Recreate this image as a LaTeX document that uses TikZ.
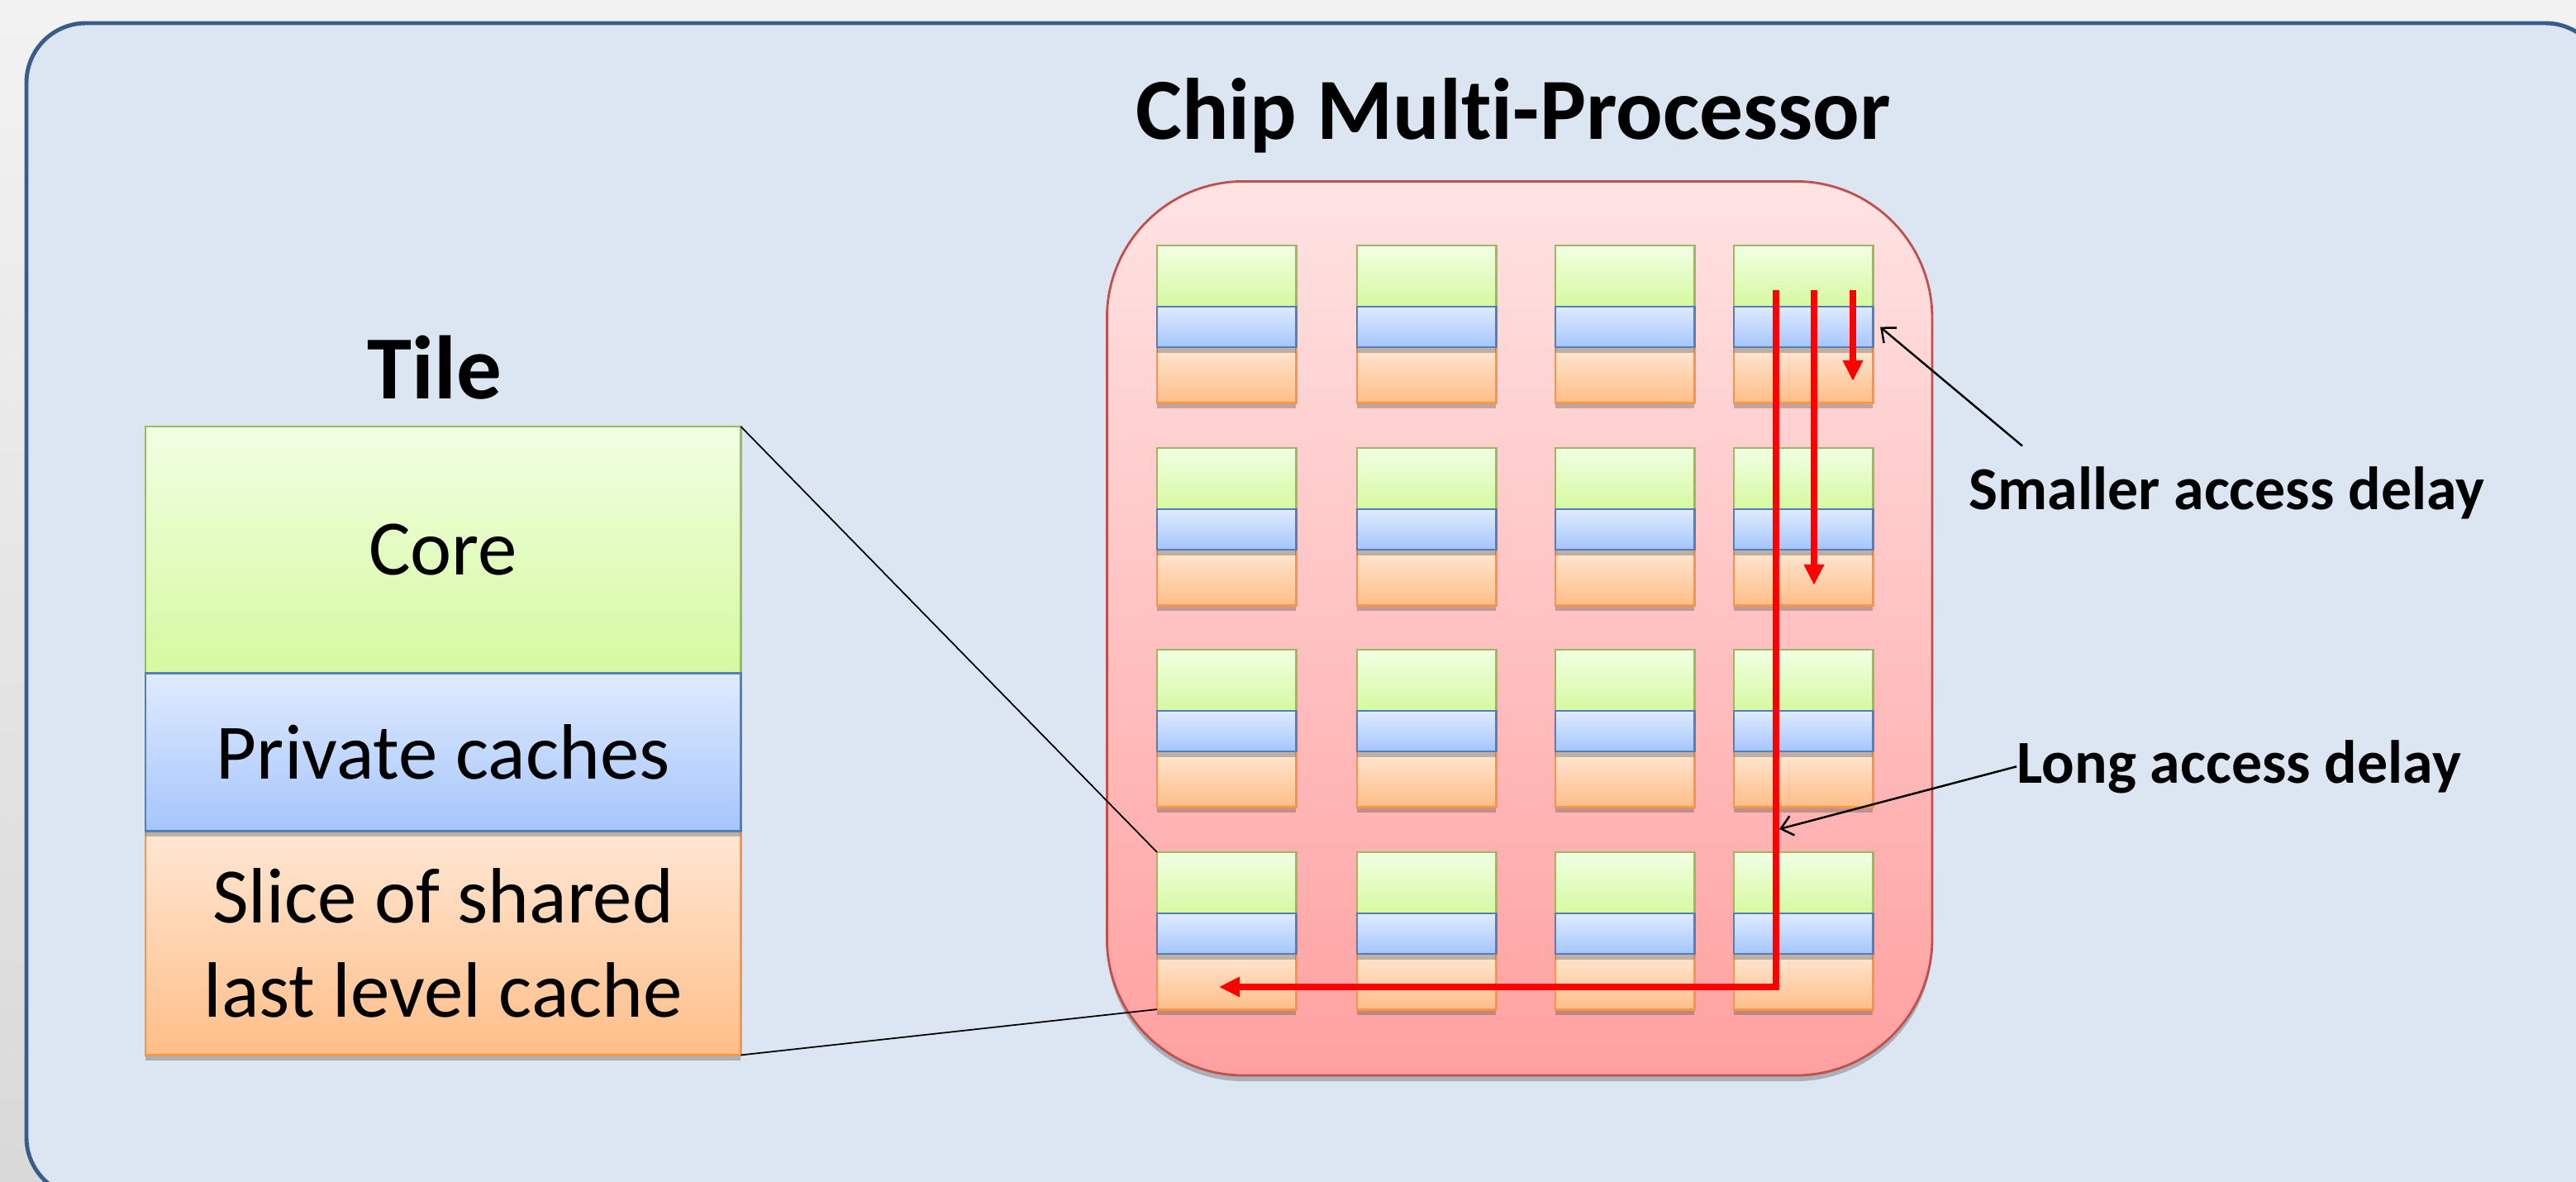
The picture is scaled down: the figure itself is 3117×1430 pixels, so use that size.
\documentclass[tikz,border=0pt]{standalone}
\usepackage{fontspec}
\setmainfont{Carlito}[Ligatures=NoCommon]
\usetikzlibrary{positioning,calc,arrows.meta,shadows}

\definecolor{slideblue}{HTML}{DCE6F2}
\definecolor{frameblue}{HTML}{385D8A}
\definecolor{chipedge}{HTML}{C0504D}
\definecolor{coreedge}{HTML}{9BBB59}
\definecolor{privedge}{HTML}{4F81BD}
\definecolor{llcedge}{HTML}{F79646}

\tikzset{
  layer/.style={draw, line width=0.8pt, inner sep=0pt, outer sep=0pt,
    anchor=north west, minimum width=#1},
  soft shadow/.style={drop shadow={shadow xshift=0pt, shadow yshift=-2pt, opacity=0.35, fill=black!70}},
  core/.style={draw=coreedge, top color={rgb,255:red,241;green,255;blue,228},
    bottom color={rgb,255:red,214;green,249;blue,160}},
  priv/.style={draw=privedge, top color={rgb,255:red,224;green,235;blue,255},
    bottom color={rgb,255:red,165;green,197;blue,252}, soft shadow},
  llc/.style={draw=llcedge, top color={rgb,255:red,255;green,231;blue,212},
    bottom color={rgb,255:red,255;green,190;blue,136}, soft shadow},
  chipbox/.style={draw=chipedge, line width=0.8pt, rounded corners=1.65cm,
    anchor=north west, top color={rgb,255:red,255;green,227;blue,227},
    bottom color={rgb,255:red,255;green,160;blue,160}, soft shadow},
  frame/.style={draw=frameblue, line width=1.4pt, fill=slideblue, rounded corners=0.72cm},
  title/.style={font=\fontsize{31}{37}\selectfont\bfseries, anchor=base, inner sep=0pt},
  bigtext/.style={font=\fontsize{27}{32.4}\selectfont, align=center},
  lbl/.style={font=\fontsize{21}{25}\selectfont\bfseries, anchor=base west, inner sep=0pt},
  redarr/.style={draw=red, line width=2.2pt, -{Triangle[length=0.25cm,width=0.23cm]}},
  pointer/.style={draw=black, line width=0.7pt, -{Straight Barb[length=0.14cm,width=0.24cm]}}
}

\begin{document}
\begin{tikzpicture}[x=0.01cm, y=-0.01cm]
  \useasboundingbox (0,0) rectangle (3117,1430);
  \clip (0,0) rectangle (3117,1430);
  \shade[top color=gray!10, bottom color=gray!30] (0,0) rectangle (3117,1430);

  % slide panel
  \draw[frame] (32,28) rectangle (3152,1448);

  % chip with 4x4 tiles
  \node[chipbox, minimum width=9.98cm, minimum height=10.81cm] (chip) at (1338,218) {};
  \node[title, font=\fontsize{30}{36}\selectfont\bfseries] (chiptitle) at (1831,168) {Chip Multi-Processor};

  \foreach \c/\x in {1/1400,2/1642,3/1882,4/2098}
    \foreach \r/\y in {1/297,2/542,3/786,4/1031} {
      \node[layer=1.68cm, core, minimum height=0.74cm] (c\r\c) at (\x,\y) {};
      \node[layer=1.68cm, llc, minimum height=0.67cm, below=0.49cm of c\r\c] (l\r\c) {};
      \node[layer=1.68cm, priv, minimum height=0.49cm, below=0pt of c\r\c] (p\r\c) {};
    }

  % one tile, enlarged
  \node[title] (tiletitle) at (526,482) {Tile};
  \node[layer=7.2cm, core, minimum height=2.98cm, bigtext] (core) at (176,516) {Core};
  \node[layer=7.2cm, llc, minimum height=2.71cm, bigtext, below=1.91cm of core] (llc) {Slice of shared\\last level cache};
  \node[layer=7.2cm, priv, minimum height=1.91cm, bigtext, below=0pt of core] (priv) {Private caches};

  \draw[line width=0.5pt] (core.north east) -- (c41.north west);
  \draw[line width=0.5pt] (llc.south east) -- (l41.south west);

  % access paths
  \coordinate (s1) at (2149,351);
  \coordinate (s2) at (2195,351);
  \coordinate (s3) at (2242,351);
  \coordinate (e2) at (2195,708);
  \coordinate (e3) at (2242,461);
  \coordinate (e1) at (1475,1194);
  \draw[redarr] (s3) -- (e3);
  \draw[redarr] (s2) -- (e2);
  \draw[redarr] (s1) |- (e1);

  % labels
  \node[lbl] (small) at (2382,616) {Smaller access delay};
  \node[lbl] (long) at (2440,947) {Long access delay};
  \coordinate (hit) at (2153,1003);
  \draw[pointer] ($(small.north west)+(65,-24)$) -- ($(p14.east)+(9,0)$);
  \draw[pointer] (long.west) -- (hit);
\end{tikzpicture}
\end{document}
